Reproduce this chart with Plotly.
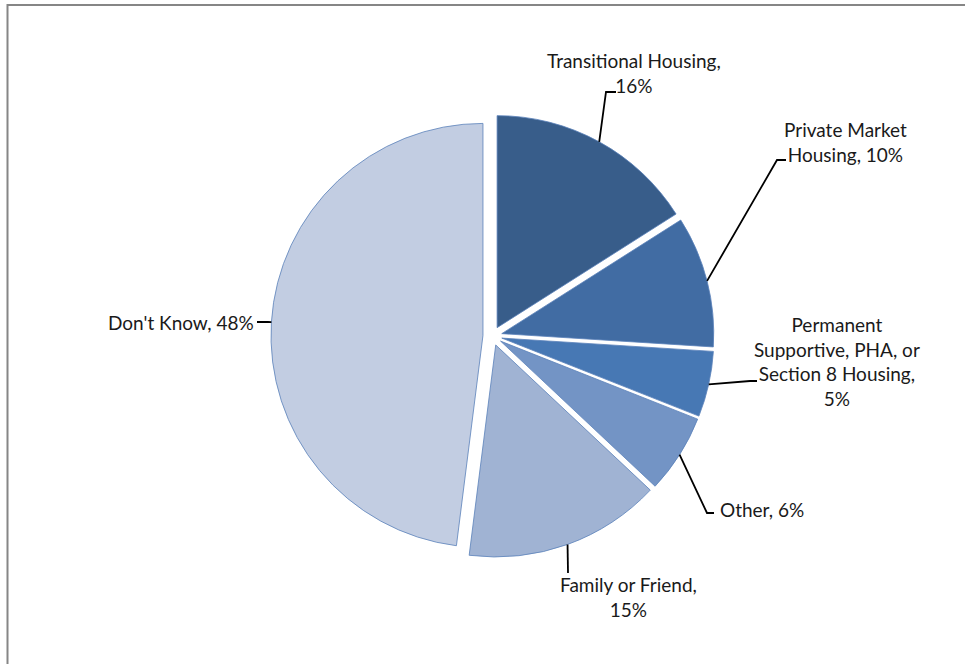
import math
import plotly.graph_objects as go

# ---- data ----
categories = ["Transitional Housing", "Private Market Housing",
              "Permanent Supportive, PHA, or Section 8 Housing",
              "Other", "Family or Friend", "Don't Know"]
percents = [16, 10, 5, 6, 15, 48]
label_texts = ["Transitional Housing,<br>16%",
               "Private Market<br>Housing, 10%",
               "Permanent<br>Supportive, PHA, or<br>Section 8 Housing,<br>5%",
               "Other, 6%",
               "Family or Friend,<br>15%",
               "Don't Know, 48%"]

# ---- styles / layout ----
W, H = 965, 664
colors = ["#385D8A", "#416CA3", "#4778B4", "#7394C5", "#A0B3D3", "#C2CDE2"]
CX, CY, R = 492.5, 336.0, 212.0   # pie centre and radius (px)
PULL = 0.045
FONT = dict(family="Lato, 'Open Sans', sans-serif", size=19, color="#1a1a1a")

# label placement (px): x, y, xanchor ; leader-line bend points (px)
label_pos = [(634, 73, "center"), (845, 142, "center"), (837, 361, "center"),
             (718, 509, "left"), (628, 597, "center"), (256, 322, "right")]
leader_bends = [[(606, 92), (616, 92)],
                [(777, 160), (786, 160)],
                [(750, 381), (757, 381)],
                [(707, 513), (714, 513)],
                [(568, 573)],
                [(268, 322), (257, 322)]]

def px(x):
    return x / W

def py(y):
    return 1 - y / H

half = R * (1 + PULL)
dom_x = [px(CX - half), px(CX + half)]
dom_y = [py(CY + half), py(CY - half)]

fig = go.Figure(go.Pie(
    labels=categories, values=percents, sort=False, direction="clockwise",
    rotation=0, pull=[PULL] * len(percents), textinfo="none",
    marker=dict(colors=colors, line=dict(color="#5B82BA", width=0.8)),
    domain=dict(x=dom_x, y=dom_y), showlegend=False, hoverinfo="label+percent",
))

shapes = []
annotations = []
total = sum(percents)
cum = 0
for i, v in enumerate(percents):
    mid = (cum + v / 2) / total * 2 * math.pi
    cum += v
    sx, sy = math.sin(mid), -math.cos(mid)
    ccx, ccy = CX + PULL * R * sx, CY + PULL * R * sy
    ax, ay = ccx + R * sx, ccy + R * sy
    pts = [(ax, ay)] + leader_bends[i]
    path = "M " + " L ".join(f"{px(x):.5f},{py(y):.5f}" for x, y in pts)
    shapes.append(dict(type="path", path=path, xref="paper", yref="paper",
                       line=dict(color="#000000", width=1.8)))
    lx, ly, anc = label_pos[i]
    annotations.append(dict(x=px(lx), y=py(ly), xref="paper", yref="paper",
                            text=label_texts[i], showarrow=False,
                            xanchor=anc, yanchor="middle", align="center",
                            font=FONT))

# chart-area border (grey frame)
shapes.append(dict(type="rect", xref="paper", yref="paper",
                   x0=px(7.5), x1=1.02, y0=-0.02, y1=py(5),
                   line=dict(color="#868686", width=2)))

fig.update_layout(width=W, height=H, margin=dict(l=0, r=0, t=0, b=0),
                  paper_bgcolor="white", plot_bgcolor="white",
                  shapes=shapes, annotations=annotations)
fig.write_html("out.html", config={"displayModeBar": False},
               post_script="document.body.style.margin='0';"
                           "document.body.style.overflow='hidden';")
